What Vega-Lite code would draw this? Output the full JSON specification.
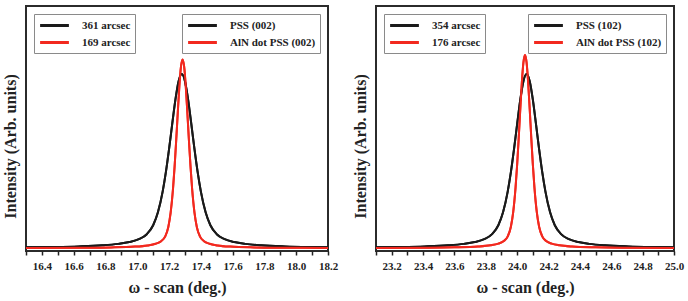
{
  "$schema": "https://vega.github.io/schema/vega-lite/v6.json",
  "padding": {"left": 1, "top": 5, "right": 0, "bottom": 1},
  "config": {
    "font": "Liberation Serif",
    "view": {"stroke": "#2b2b2b", "strokeWidth": 2},
    "axis": {
      "labelFont": "Liberation Serif", "labelFontWeight": "bold", "labelFontSize": 11, "labelColor": "#222",
      "titleFont": "Liberation Serif", "titleFontWeight": "bold", "titleFontSize": 16, "titleColor": "#222",
      "grid": false
    },
    "legend": {
      "labelFont": "Liberation Serif", "labelFontWeight": "bold", "labelFontSize": 11, "labelColor": "#222",
      "strokeColor": "#8a8a8a", "fillColor": "#ffffff", "padding": 4, "cornerRadius": 0,
      "symbolType": "M-2.4,0H2.4", "symbolSize": 144, "symbolStrokeWidth": 3, "symbolOffset": 9, "labelOffset": 20,
      "rowPadding": 3, "offset": 8
    },
    "concat": {"spacing": 12}
  },
  "datasets": {
    "left": [
      {"sample": "PSS (002)", "fwhm": "361 arcsec", "omega": 16.30, "intensity": 1.50},
      {"sample": "PSS (002)", "fwhm": "361 arcsec", "omega": 16.48, "intensity": 1.64},
      {"sample": "PSS (002)", "fwhm": "361 arcsec", "omega": 16.63, "intensity": 1.87},
      {"sample": "PSS (002)", "fwhm": "361 arcsec", "omega": 16.78, "intensity": 2.31},
      {"sample": "PSS (002)", "fwhm": "361 arcsec", "omega": 16.88, "intensity": 2.91},
      {"sample": "PSS (002)", "fwhm": "361 arcsec", "omega": 16.95, "intensity": 3.66},
      {"sample": "PSS (002)", "fwhm": "361 arcsec", "omega": 17.01, "intensity": 4.82},
      {"sample": "PSS (002)", "fwhm": "361 arcsec", "omega": 17.06, "intensity": 6.86},
      {"sample": "PSS (002)", "fwhm": "361 arcsec", "omega": 17.10, "intensity": 10.52},
      {"sample": "PSS (002)", "fwhm": "361 arcsec", "omega": 17.13, "intensity": 15.78},
      {"sample": "PSS (002)", "fwhm": "361 arcsec", "omega": 17.16, "intensity": 24.33},
      {"sample": "PSS (002)", "fwhm": "361 arcsec", "omega": 17.18, "intensity": 32.18},
      {"sample": "PSS (002)", "fwhm": "361 arcsec", "omega": 17.20, "intensity": 41.56},
      {"sample": "PSS (002)", "fwhm": "361 arcsec", "omega": 17.22, "intensity": 51.87},
      {"sample": "PSS (002)", "fwhm": "361 arcsec", "omega": 17.24, "intensity": 61.81},
      {"sample": "PSS (002)", "fwhm": "361 arcsec", "omega": 17.26, "intensity": 69.33},
      {"sample": "PSS (002)", "fwhm": "361 arcsec", "omega": 17.28, "intensity": 72.2},
      {"sample": "PSS (002)", "fwhm": "361 arcsec", "omega": 17.30, "intensity": 69.33},
      {"sample": "PSS (002)", "fwhm": "361 arcsec", "omega": 17.32, "intensity": 61.81},
      {"sample": "PSS (002)", "fwhm": "361 arcsec", "omega": 17.34, "intensity": 51.87},
      {"sample": "PSS (002)", "fwhm": "361 arcsec", "omega": 17.36, "intensity": 41.56},
      {"sample": "PSS (002)", "fwhm": "361 arcsec", "omega": 17.38, "intensity": 32.18},
      {"sample": "PSS (002)", "fwhm": "361 arcsec", "omega": 17.40, "intensity": 24.33},
      {"sample": "PSS (002)", "fwhm": "361 arcsec", "omega": 17.43, "intensity": 15.78},
      {"sample": "PSS (002)", "fwhm": "361 arcsec", "omega": 17.46, "intensity": 10.52},
      {"sample": "PSS (002)", "fwhm": "361 arcsec", "omega": 17.50, "intensity": 6.86},
      {"sample": "PSS (002)", "fwhm": "361 arcsec", "omega": 17.55, "intensity": 4.82},
      {"sample": "PSS (002)", "fwhm": "361 arcsec", "omega": 17.61, "intensity": 3.66},
      {"sample": "PSS (002)", "fwhm": "361 arcsec", "omega": 17.68, "intensity": 2.91},
      {"sample": "PSS (002)", "fwhm": "361 arcsec", "omega": 17.78, "intensity": 2.31},
      {"sample": "PSS (002)", "fwhm": "361 arcsec", "omega": 17.93, "intensity": 1.87},
      {"sample": "PSS (002)", "fwhm": "361 arcsec", "omega": 18.08, "intensity": 1.64},
      {"sample": "PSS (002)", "fwhm": "361 arcsec", "omega": 18.20, "intensity": 1.54},
      {"sample": "AlN dot PSS (002)", "fwhm": "169 arcsec", "omega": 16.300, "intensity": 1.25},
      {"sample": "AlN dot PSS (002)", "fwhm": "169 arcsec", "omega": 16.635, "intensity": 1.33},
      {"sample": "AlN dot PSS (002)", "fwhm": "169 arcsec", "omega": 16.835, "intensity": 1.47},
      {"sample": "AlN dot PSS (002)", "fwhm": "169 arcsec", "omega": 16.985, "intensity": 1.79},
      {"sample": "AlN dot PSS (002)", "fwhm": "169 arcsec", "omega": 17.065, "intensity": 2.29},
      {"sample": "AlN dot PSS (002)", "fwhm": "169 arcsec", "omega": 17.115, "intensity": 2.96},
      {"sample": "AlN dot PSS (002)", "fwhm": "169 arcsec", "omega": 17.150, "intensity": 4.00},
      {"sample": "AlN dot PSS (002)", "fwhm": "169 arcsec", "omega": 17.175, "intensity": 5.86},
      {"sample": "AlN dot PSS (002)", "fwhm": "169 arcsec", "omega": 17.195, "intensity": 9.72},
      {"sample": "AlN dot PSS (002)", "fwhm": "169 arcsec", "omega": 17.210, "intensity": 15.63},
      {"sample": "AlN dot PSS (002)", "fwhm": "169 arcsec", "omega": 17.225, "intensity": 25.49},
      {"sample": "AlN dot PSS (002)", "fwhm": "169 arcsec", "omega": 17.235, "intensity": 34.53},
      {"sample": "AlN dot PSS (002)", "fwhm": "169 arcsec", "omega": 17.245, "intensity": 45.20},
      {"sample": "AlN dot PSS (002)", "fwhm": "169 arcsec", "omega": 17.255, "intensity": 56.64},
      {"sample": "AlN dot PSS (002)", "fwhm": "169 arcsec", "omega": 17.265, "intensity": 67.36},
      {"sample": "AlN dot PSS (002)", "fwhm": "169 arcsec", "omega": 17.275, "intensity": 75.24},
      {"sample": "AlN dot PSS (002)", "fwhm": "169 arcsec", "omega": 17.285, "intensity": 78.2},
      {"sample": "AlN dot PSS (002)", "fwhm": "169 arcsec", "omega": 17.295, "intensity": 75.24},
      {"sample": "AlN dot PSS (002)", "fwhm": "169 arcsec", "omega": 17.305, "intensity": 67.36},
      {"sample": "AlN dot PSS (002)", "fwhm": "169 arcsec", "omega": 17.315, "intensity": 56.64},
      {"sample": "AlN dot PSS (002)", "fwhm": "169 arcsec", "omega": 17.325, "intensity": 45.20},
      {"sample": "AlN dot PSS (002)", "fwhm": "169 arcsec", "omega": 17.335, "intensity": 34.53},
      {"sample": "AlN dot PSS (002)", "fwhm": "169 arcsec", "omega": 17.345, "intensity": 25.49},
      {"sample": "AlN dot PSS (002)", "fwhm": "169 arcsec", "omega": 17.360, "intensity": 15.63},
      {"sample": "AlN dot PSS (002)", "fwhm": "169 arcsec", "omega": 17.375, "intensity": 9.72},
      {"sample": "AlN dot PSS (002)", "fwhm": "169 arcsec", "omega": 17.395, "intensity": 5.86},
      {"sample": "AlN dot PSS (002)", "fwhm": "169 arcsec", "omega": 17.420, "intensity": 4.00},
      {"sample": "AlN dot PSS (002)", "fwhm": "169 arcsec", "omega": 17.455, "intensity": 2.96},
      {"sample": "AlN dot PSS (002)", "fwhm": "169 arcsec", "omega": 17.505, "intensity": 2.29},
      {"sample": "AlN dot PSS (002)", "fwhm": "169 arcsec", "omega": 17.585, "intensity": 1.79},
      {"sample": "AlN dot PSS (002)", "fwhm": "169 arcsec", "omega": 17.735, "intensity": 1.47},
      {"sample": "AlN dot PSS (002)", "fwhm": "169 arcsec", "omega": 17.935, "intensity": 1.33},
      {"sample": "AlN dot PSS (002)", "fwhm": "169 arcsec", "omega": 18.200, "intensity": 1.26}
    ],
    "right": [
      {"sample": "PSS (102)", "fwhm": "354 arcsec", "omega": 23.10, "intensity": 1.51},
      {"sample": "PSS (102)", "fwhm": "354 arcsec", "omega": 23.26, "intensity": 1.64},
      {"sample": "PSS (102)", "fwhm": "354 arcsec", "omega": 23.41, "intensity": 1.87},
      {"sample": "PSS (102)", "fwhm": "354 arcsec", "omega": 23.56, "intensity": 2.31},
      {"sample": "PSS (102)", "fwhm": "354 arcsec", "omega": 23.66, "intensity": 2.91},
      {"sample": "PSS (102)", "fwhm": "354 arcsec", "omega": 23.73, "intensity": 3.66},
      {"sample": "PSS (102)", "fwhm": "354 arcsec", "omega": 23.79, "intensity": 4.82},
      {"sample": "PSS (102)", "fwhm": "354 arcsec", "omega": 23.84, "intensity": 6.86},
      {"sample": "PSS (102)", "fwhm": "354 arcsec", "omega": 23.88, "intensity": 10.52},
      {"sample": "PSS (102)", "fwhm": "354 arcsec", "omega": 23.91, "intensity": 15.78},
      {"sample": "PSS (102)", "fwhm": "354 arcsec", "omega": 23.94, "intensity": 24.33},
      {"sample": "PSS (102)", "fwhm": "354 arcsec", "omega": 23.96, "intensity": 32.18},
      {"sample": "PSS (102)", "fwhm": "354 arcsec", "omega": 23.98, "intensity": 41.56},
      {"sample": "PSS (102)", "fwhm": "354 arcsec", "omega": 24.00, "intensity": 51.87},
      {"sample": "PSS (102)", "fwhm": "354 arcsec", "omega": 24.02, "intensity": 61.81},
      {"sample": "PSS (102)", "fwhm": "354 arcsec", "omega": 24.04, "intensity": 69.33},
      {"sample": "PSS (102)", "fwhm": "354 arcsec", "omega": 24.06, "intensity": 72.2},
      {"sample": "PSS (102)", "fwhm": "354 arcsec", "omega": 24.08, "intensity": 69.33},
      {"sample": "PSS (102)", "fwhm": "354 arcsec", "omega": 24.10, "intensity": 61.81},
      {"sample": "PSS (102)", "fwhm": "354 arcsec", "omega": 24.12, "intensity": 51.87},
      {"sample": "PSS (102)", "fwhm": "354 arcsec", "omega": 24.14, "intensity": 41.56},
      {"sample": "PSS (102)", "fwhm": "354 arcsec", "omega": 24.16, "intensity": 32.18},
      {"sample": "PSS (102)", "fwhm": "354 arcsec", "omega": 24.18, "intensity": 24.33},
      {"sample": "PSS (102)", "fwhm": "354 arcsec", "omega": 24.21, "intensity": 15.78},
      {"sample": "PSS (102)", "fwhm": "354 arcsec", "omega": 24.24, "intensity": 10.52},
      {"sample": "PSS (102)", "fwhm": "354 arcsec", "omega": 24.28, "intensity": 6.86},
      {"sample": "PSS (102)", "fwhm": "354 arcsec", "omega": 24.33, "intensity": 4.82},
      {"sample": "PSS (102)", "fwhm": "354 arcsec", "omega": 24.39, "intensity": 3.66},
      {"sample": "PSS (102)", "fwhm": "354 arcsec", "omega": 24.46, "intensity": 2.91},
      {"sample": "PSS (102)", "fwhm": "354 arcsec", "omega": 24.56, "intensity": 2.31},
      {"sample": "PSS (102)", "fwhm": "354 arcsec", "omega": 24.71, "intensity": 1.87},
      {"sample": "PSS (102)", "fwhm": "354 arcsec", "omega": 24.86, "intensity": 1.64},
      {"sample": "PSS (102)", "fwhm": "354 arcsec", "omega": 25.00, "intensity": 1.52},
      {"sample": "AlN dot PSS (102)", "fwhm": "176 arcsec", "omega": 23.100, "intensity": 1.26},
      {"sample": "AlN dot PSS (102)", "fwhm": "176 arcsec", "omega": 23.400, "intensity": 1.33},
      {"sample": "AlN dot PSS (102)", "fwhm": "176 arcsec", "omega": 23.600, "intensity": 1.48},
      {"sample": "AlN dot PSS (102)", "fwhm": "176 arcsec", "omega": 23.750, "intensity": 1.81},
      {"sample": "AlN dot PSS (102)", "fwhm": "176 arcsec", "omega": 23.830, "intensity": 2.31},
      {"sample": "AlN dot PSS (102)", "fwhm": "176 arcsec", "omega": 23.880, "intensity": 3.00},
      {"sample": "AlN dot PSS (102)", "fwhm": "176 arcsec", "omega": 23.915, "intensity": 4.06},
      {"sample": "AlN dot PSS (102)", "fwhm": "176 arcsec", "omega": 23.940, "intensity": 5.97},
      {"sample": "AlN dot PSS (102)", "fwhm": "176 arcsec", "omega": 23.960, "intensity": 9.92},
      {"sample": "AlN dot PSS (102)", "fwhm": "176 arcsec", "omega": 23.975, "intensity": 15.97},
      {"sample": "AlN dot PSS (102)", "fwhm": "176 arcsec", "omega": 23.990, "intensity": 26.06},
      {"sample": "AlN dot PSS (102)", "fwhm": "176 arcsec", "omega": 24.000, "intensity": 35.31},
      {"sample": "AlN dot PSS (102)", "fwhm": "176 arcsec", "omega": 24.010, "intensity": 46.23},
      {"sample": "AlN dot PSS (102)", "fwhm": "176 arcsec", "omega": 24.020, "intensity": 57.94},
      {"sample": "AlN dot PSS (102)", "fwhm": "176 arcsec", "omega": 24.030, "intensity": 68.90},
      {"sample": "AlN dot PSS (102)", "fwhm": "176 arcsec", "omega": 24.040, "intensity": 76.97},
      {"sample": "AlN dot PSS (102)", "fwhm": "176 arcsec", "omega": 24.050, "intensity": 80.0},
      {"sample": "AlN dot PSS (102)", "fwhm": "176 arcsec", "omega": 24.060, "intensity": 76.97},
      {"sample": "AlN dot PSS (102)", "fwhm": "176 arcsec", "omega": 24.070, "intensity": 68.90},
      {"sample": "AlN dot PSS (102)", "fwhm": "176 arcsec", "omega": 24.080, "intensity": 57.94},
      {"sample": "AlN dot PSS (102)", "fwhm": "176 arcsec", "omega": 24.090, "intensity": 46.23},
      {"sample": "AlN dot PSS (102)", "fwhm": "176 arcsec", "omega": 24.100, "intensity": 35.31},
      {"sample": "AlN dot PSS (102)", "fwhm": "176 arcsec", "omega": 24.110, "intensity": 26.06},
      {"sample": "AlN dot PSS (102)", "fwhm": "176 arcsec", "omega": 24.125, "intensity": 15.97},
      {"sample": "AlN dot PSS (102)", "fwhm": "176 arcsec", "omega": 24.140, "intensity": 9.92},
      {"sample": "AlN dot PSS (102)", "fwhm": "176 arcsec", "omega": 24.160, "intensity": 5.97},
      {"sample": "AlN dot PSS (102)", "fwhm": "176 arcsec", "omega": 24.185, "intensity": 4.06},
      {"sample": "AlN dot PSS (102)", "fwhm": "176 arcsec", "omega": 24.220, "intensity": 3.00},
      {"sample": "AlN dot PSS (102)", "fwhm": "176 arcsec", "omega": 24.270, "intensity": 2.31},
      {"sample": "AlN dot PSS (102)", "fwhm": "176 arcsec", "omega": 24.350, "intensity": 1.81},
      {"sample": "AlN dot PSS (102)", "fwhm": "176 arcsec", "omega": 24.500, "intensity": 1.48},
      {"sample": "AlN dot PSS (102)", "fwhm": "176 arcsec", "omega": 24.700, "intensity": 1.33},
      {"sample": "AlN dot PSS (102)", "fwhm": "176 arcsec", "omega": 25.000, "intensity": 1.26}
    ]
  },
  "resolve": {"scale": {"color": "independent", "stroke": "independent"}},
  "hconcat": [
    {
      "width": 302, "height": 245,
      "data": {"name": "left"},
      "encoding": {
        "x": {
          "field": "omega", "type": "quantitative",
          "scale": {"domain": [16.3, 18.2], "nice": false, "zero": false},
          "axis": {
            "title": "ω - scan (deg.)",
            "values": [16.3, 16.4, 16.5, 16.6, 16.7, 16.8, 16.9, 17.0, 17.1, 17.2, 17.3, 17.4, 17.5, 17.6, 17.7, 17.8, 17.9, 18.0, 18.1, 18.2],
            "labelExpr": "round(datum.value * 10) % 2 == 0 ? format(datum.value, '.1f') : ''",
            "tickSize": 4, "tickWidth": 1.5, "tickColor": "#222", "domain": false,
            "labelPadding": 5, "titlePadding": 8, "labelFlush": false
          }
        },
        "y": {
          "field": "intensity", "type": "quantitative",
          "scale": {"domain": [0, 100]},
          "axis": {"title": "Intensity (Arb. units)", "labels": false, "ticks": false, "domain": false, "titlePadding": 8, "titleY": 140}
        }
      },
      "layer": [
        {
          "mark": {"type": "line", "interpolate": "monotone", "strokeWidth": 2},
          "encoding": {
            "color": {
              "field": "sample", "type": "nominal",
              "scale": {"domain": ["PSS (002)", "AlN dot PSS (002)"], "range": ["#1a1a1a", "#f2291f"]},
              "legend": {"title": null, "orient": "top-right"}
            }
          }
        },
        {
          "mark": {"type": "line", "interpolate": "monotone", "strokeWidth": 2},
          "encoding": {
            "stroke": {
              "field": "fwhm", "type": "nominal",
              "scale": {"domain": ["361 arcsec", "169 arcsec"], "range": ["#1a1a1a", "#f2291f"]},
              "legend": {"title": null, "orient": "top-left"}
            }
          }
        }
      ]
    },
    {
      "width": 298, "height": 245,
      "data": {"name": "right"},
      "encoding": {
        "x": {
          "field": "omega", "type": "quantitative",
          "scale": {"domain": [23.1, 25.0], "nice": false, "zero": false},
          "axis": {
            "title": "ω - scan (deg.)",
            "values": [23.1, 23.2, 23.3, 23.4, 23.5, 23.6, 23.7, 23.8, 23.9, 24.0, 24.1, 24.2, 24.3, 24.4, 24.5, 24.6, 24.7, 24.8, 24.9, 25.0],
            "labelExpr": "round(datum.value * 10) % 2 == 0 ? format(datum.value, '.1f') : ''",
            "tickSize": 4, "tickWidth": 1.5, "tickColor": "#222", "domain": false,
            "labelPadding": 5, "titlePadding": 8, "labelFlush": false
          }
        },
        "y": {
          "field": "intensity", "type": "quantitative",
          "scale": {"domain": [0, 100]},
          "axis": {"title": "Intensity (Arb. units)", "labels": false, "ticks": false, "domain": false, "titlePadding": 8, "titleY": 140}
        }
      },
      "layer": [
        {
          "mark": {"type": "line", "interpolate": "monotone", "strokeWidth": 2},
          "encoding": {
            "color": {
              "field": "sample", "type": "nominal",
              "scale": {"domain": ["PSS (102)", "AlN dot PSS (102)"], "range": ["#1a1a1a", "#f2291f"]},
              "legend": {"title": null, "orient": "top-right"}
            }
          }
        },
        {
          "mark": {"type": "line", "interpolate": "monotone", "strokeWidth": 2},
          "encoding": {
            "stroke": {
              "field": "fwhm", "type": "nominal",
              "scale": {"domain": ["354 arcsec", "176 arcsec"], "range": ["#1a1a1a", "#f2291f"]},
              "legend": {"title": null, "orient": "top-left"}
            }
          }
        }
      ]
    }
  ]
}
